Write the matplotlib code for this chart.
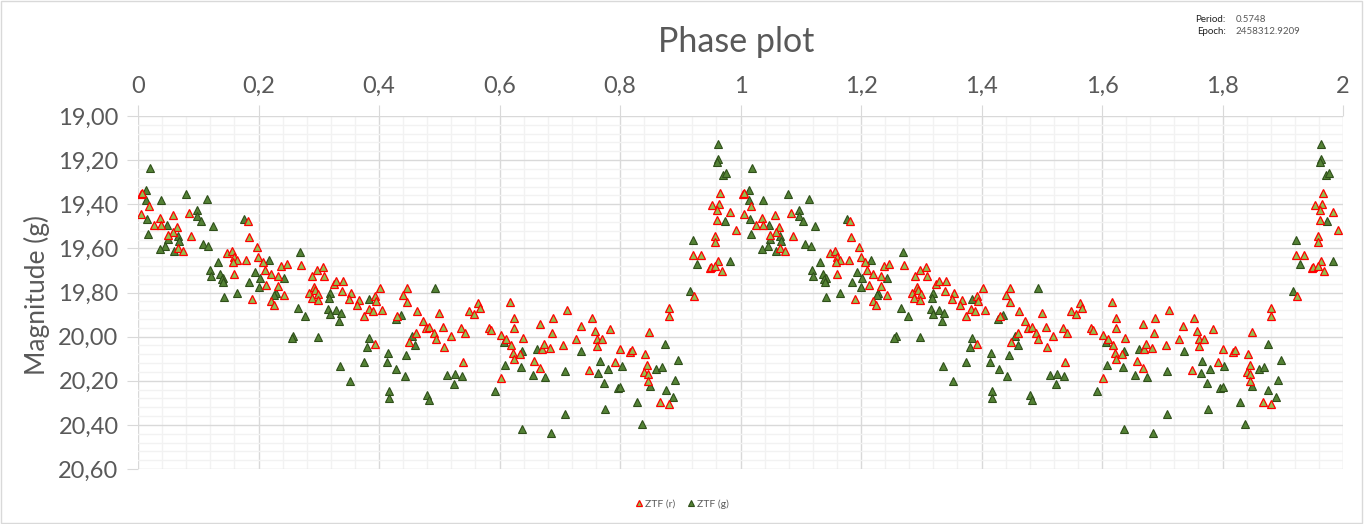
import matplotlib
matplotlib.use("Agg")
import matplotlib.pyplot as plt
from matplotlib.ticker import MultipleLocator, FuncFormatter
from matplotlib.patches import Rectangle

# folded light curve, one cycle (phase 0..1); the chart shows it twice
phase_r = [0.0045, 0.0066, 0.0177, 0.0056, 0.036, 0.058, 0.084, 0.026, 0.0376, 0.0645,
           0.0585, 0.0497, 0.0877, 0.066, 0.0745, 0.182, 0.1836, 0.197, 0.148, 0.1567,
           0.160, 0.165, 0.158, 0.180, 0.1997, 0.207, 0.2377, 0.2465, 0.160, 0.210,
           0.220, 0.233, 0.213, 0.233, 0.243, 0.190, 0.2207, 0.225,
           0.2713, 0.2895, 0.2978, 0.3077, 0.309, 0.325, 0.329, 0.341, 0.2926, 0.294,
           0.284, 0.2995, 0.2885, 0.298, 0.339, 0.354, 0.351, 0.367, 0.364, 0.402,
           0.393, 0.395, 0.383, 0.390, 0.405, 0.375, 0.447, 0.440, 0.447, 0.430,
           0.463, 0.4996, 0.473, 0.478, 0.483, 0.507, 0.4613, 0.491, 0.4946, 0.4495,
           0.508, 0.393,
           0.5195, 0.536, 0.5426, 0.549, 0.5575, 0.564, 0.5674, 0.539, 0.5823, 0.5856,
           0.602, 0.6104, 0.617, 0.6237, 0.6237, 0.6385, 0.6187, 0.622, 0.6336, 0.6237,
           0.602, 0.658, 0.668, 0.670, 0.6733, 0.683, 0.668, 0.6865, 0.688, 0.7113,
           0.706, 0.727, 0.7345, 0.7527, 0.7577, 0.761, 0.761, 0.770, 0.749,
           0.8805, 0.8805, 0.784, 0.8486, 0.800, 0.817, 0.8205, 0.842, 0.7924, 0.8453,
           0.840, 0.846, 0.846, 0.8668, 0.881,
           0.966, 0.953, 0.9644, 0.961, 0.9826, 0.961, 0.992, 0.958, 0.958, 0.9214,
           0.9346, 0.963, 0.9487, 0.9503, 0.958, 0.9686, 0.923]
mag_r = [19.354, 19.350, 19.409, 19.445, 19.463, 19.449, 19.440, 19.495, 19.495, 19.504,
         19.526, 19.540, 19.544, 19.599, 19.614, 19.478, 19.550, 19.596, 19.623, 19.611,
         19.638, 19.653, 19.660, 19.653, 19.641, 19.660, 19.682, 19.673, 19.714, 19.698,
         19.718, 19.723, 19.768, 19.772, 19.811, 19.829, 19.837, 19.855,
         19.677, 19.727, 19.700, 19.686, 19.723, 19.762, 19.750, 19.750, 19.774, 19.787,
         19.802, 19.807, 19.825, 19.833, 19.793, 19.802, 19.828, 19.836, 19.858, 19.781,
         19.816, 19.840, 19.876, 19.885, 19.879, 19.908, 19.780, 19.813, 19.845, 19.906,
         19.884, 19.893, 19.929, 19.962, 19.956, 19.956, 19.983, 19.983, 20.010, 20.024,
         20.047, 20.033,
         19.997, 19.961, 19.983, 19.885, 19.897, 19.848, 19.872, 20.115, 19.962, 19.968,
         19.992, 20.010, 19.845, 19.915, 19.962, 20.008, 20.039, 20.074, 20.077, 20.100,
         20.189, 20.112, 20.143, 20.057, 20.033, 20.053, 19.944, 19.985, 19.917, 19.881,
         20.039, 20.012, 19.953, 19.917, 19.976, 20.012, 20.041, 20.009, 20.151,
         19.870, 19.906, 19.967, 19.980, 20.057, 20.071, 20.062, 20.080, 20.116, 20.130,
         20.162, 20.170, 20.200, 20.297, 20.306,
         19.350, 19.404, 19.397, 19.424, 19.436, 19.472, 19.517, 19.544, 19.573, 19.630,
         19.630, 19.655, 19.690, 19.683, 19.682, 19.703, 19.818]

phase_g = [0.0194, 0.0133, 0.0139, 0.038, 0.079, 0.114, 0.015, 0.0976, 0.0976, 0.104,
           0.048, 0.124, 0.0166, 0.0497, 0.066, 0.068, 0.1075, 0.117, 0.0453, 0.0364,
           0.0596, 0.1765, 0.2167, 0.132, 0.119, 0.121, 0.1368, 0.1418, 0.139, 0.1406,
           0.1936, 0.243, 0.2018, 0.185, 0.200, 0.229, 0.226, 0.142, 0.165,
           0.2697, 0.319, 0.3176, 0.384, 0.266, 0.278, 0.316, 0.319, 0.329, 0.3375,
           0.334, 0.493, 0.428, 0.4365, 0.455, 0.460, 0.2576, 0.2548, 0.298, 0.384,
           0.3805, 0.415, 0.445, 0.4136, 0.4285, 0.443, 0.375, 0.336, 0.352, 0.5136,
           0.417, 0.417, 0.480, 0.483,
           0.526, 0.5376, 0.5244, 0.607, 0.637, 0.6088, 0.635, 0.592, 0.655, 0.675,
           0.6617, 0.708, 0.736, 0.766, 0.764, 0.708, 0.637, 0.685,
           0.875, 0.780, 0.803, 0.8967, 0.8605, 0.869, 0.849, 0.892, 0.7735, 0.7965,
           0.800, 0.876, 0.888, 0.829, 0.7759, 0.837,
           0.9628, 0.9628, 0.961, 0.971, 0.976, 0.9735, 0.9214, 0.928, 0.9834, 0.9165]
mag_g = [19.237, 19.336, 19.379, 19.380, 19.354, 19.377, 19.465, 19.424, 19.451, 19.474,
         19.495, 19.499, 19.535, 19.557, 19.546, 19.566, 19.578, 19.591, 19.587, 19.605,
         19.614, 19.465, 19.653, 19.664, 19.698, 19.724, 19.716, 19.734, 19.739, 19.754,
         19.709, 19.734, 19.736, 19.754, 19.777, 19.804, 19.810, 19.822, 19.804,
         19.618, 19.804, 19.825, 19.831, 19.871, 19.908, 19.876, 19.896, 19.881, 19.893,
         19.929, 19.780, 19.920, 19.902, 19.995, 20.038, 19.997, 20.006, 20.000, 20.006,
         20.047, 20.074, 20.083, 20.115, 20.146, 20.178, 20.115, 20.133, 20.200, 20.172,
         20.246, 20.279, 20.264, 20.286,
         20.170, 20.180, 20.216, 20.023, 20.066, 20.127, 20.139, 20.248, 20.175, 20.184,
         20.057, 20.155, 20.066, 20.112, 20.166, 20.352, 20.419, 20.438,
         20.035, 20.148, 20.134, 20.107, 20.148, 20.139, 20.223, 20.198, 20.211, 20.234,
         20.229, 20.243, 20.275, 20.297, 20.329, 20.397,
         19.128, 19.196, 19.208, 19.267, 19.260, 19.474, 19.560, 19.671, 19.655, 19.793]

period = "0.5748"
epoch = "2458312.9209"

txt = "#595959"
plt.rcParams['font.family'] = ['Lato', 'DejaVu Sans']

fig = plt.figure(figsize=(13.65, 5.24), dpi=100)
ax = fig.add_axes([138 / 1365, 1 - 469 / 524, (1343 - 138) / 1365, (469 - 116) / 524])

# two cycles: phase and phase + 1
xg = phase_g + [p + 1 for p in phase_g]
yg = mag_g + mag_g
xr = phase_r + [p + 1 for p in phase_r]
yr = mag_r + mag_r

ax.plot(xg, yg, ls='none', marker='^', ms=6, mfc='#548235', mec='#2f4f1a', mew=0.8,
        label='ZTF (g)', zorder=3)
ax.plot(xr, yr, ls='none', marker='^', ms=6, mfc='#92c050', mec='#ff0000', mew=0.9,
        label='ZTF (r)', zorder=4)

ax.set_xlim(0, 2)
ax.set_ylim(20.60, 19.00)
ax.xaxis.set_major_locator(MultipleLocator(0.2))
ax.xaxis.set_minor_locator(MultipleLocator(0.04))
ax.yaxis.set_major_locator(MultipleLocator(0.2))
ax.yaxis.set_minor_locator(MultipleLocator(0.04))
ax.xaxis.set_major_formatter(FuncFormatter(lambda v, p: ('%g' % round(v, 1)).replace('.', ',')))
ax.yaxis.set_major_formatter(FuncFormatter(lambda v, p: ('%.2f' % v).replace('.', ',')))
ax.xaxis.tick_top()

ax.grid(which='major', color='#d9d9d9', lw=1)
ax.grid(which='minor', color='#f2f2f2', lw=1)
ax.set_axisbelow(True)
for s in ax.spines.values():
    s.set_visible(False)
ax.tick_params(which='major', length=8, color='#d9d9d9', labelsize=17, labelcolor=txt, pad=6)
ax.tick_params(which='minor', length=0)

ax.set_ylabel('Magnitude (g)', fontsize=19, color=txt)
ax.yaxis.set_label_coords(-0.073, 0.493)
fig.text(0.5395, 1 - 42 / 524, 'Phase plot', ha='center', va='center', fontsize=24.5, color=txt)

fig.text(1226 / 1365, 1 - 20 / 524, 'Period:', ha='right', va='center', fontsize=7, color='#202020')
fig.text(1236 / 1365, 1 - 20 / 524, period, ha='left', va='center', fontsize=7, color=txt)
fig.text(1226 / 1365, 1 - 32 / 524, 'Epoch:', ha='right', va='center', fontsize=7, color='#202020')
fig.text(1236 / 1365, 1 - 32 / 524, epoch, ha='left', va='center', fontsize=7, color=txt)

h, l = ax.get_legend_handles_labels()
leg = fig.legend(h[::-1], l[::-1], loc='center', bbox_to_anchor=(0.5, 1 - 504 / 524), ncol=2,
                 frameon=False, fontsize=7.5, labelcolor=txt, markerscale=0.8,
                 handlelength=0.6, handletextpad=0.3, columnspacing=1.2)

fig.patches.append(Rectangle((0.001, 0.002), 0.997, 0.996, transform=fig.transFigure,
                             fill=False, edgecolor='#d9d9d9', lw=1))

fig.savefig('out.png', dpi=100, facecolor='white')
